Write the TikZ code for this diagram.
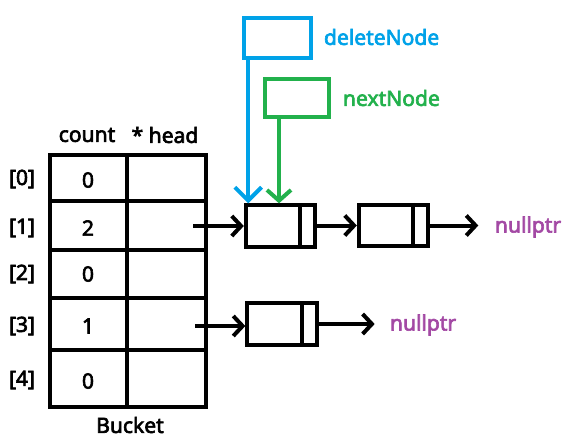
\documentclass[tikz,border=0pt]{standalone}
\usepackage{fontspec}
\setmainfont{Noto Sans}[RawFeature={embolden=3}]
\usetikzlibrary{arrows.meta,calc}
\definecolor{pblue}{HTML}{00A2E8}
\definecolor{pgreen}{HTML}{22B14C}
\definecolor{ppurple}{HTML}{A349A4}
\begin{document}
\begin{tikzpicture}[x=0.75pt,y=-0.75pt,line width=3pt,
  txt/.style={font=\fontsize{15.8}{19}\selectfont,inner sep=0pt},
  lnode/.style={draw,rectangle,minimum width=52pt,minimum height=31pt,inner sep=0pt},
  ptrbox/.style={draw,rectangle,inner sep=0pt},
  barb/.style={-{Straight Barb[length=7pt,width=15pt]}},
  bigbarb/.style={-{Straight Barb[length=10pt,width=20pt]}}]
\useasboundingbox (0,0) rectangle (572,440);
% bucket table
\draw (50,155) rectangle (206,407);
\draw (127,155) -- (127,407);
\foreach \y in {201,250,298,350} \draw (50,\y) -- (206,\y);
\node[txt] (hcount) at (87,135) {count};
\node[txt] (hhead) at (165,135) {* head};
\node[txt] (bucket) at (130,425) {Bucket};
\node[txt] (i0) at (22,179) {[0]};
\node[txt] (i1) at (22,228) {[1]};
\node[txt] (i2) at (22,274) {[2]};
\node[txt] (i3) at (22,326) {[3]};
\node[txt] (i4) at (22,380) {[4]};
\node[txt] (c0) at (88,180) {0};
\node[txt] (c1) at (88,228) {2};
\node[txt] (c2) at (88,274) {0};
\node[txt] (c3) at (88,326) {1};
\node[txt] (c4) at (88,381) {0};
\coordinate (h1) at (193,226);
\coordinate (h3) at (195,326);
% list nodes
\node[lnode] (n1) at (280.5,226) {};
\node[lnode] (n2) at (393.5,225.5) {};
\node[lnode] (n3) at (282,324) {};
\foreach \n in {n1,n2,n3}
  \draw ($(\n.north east)+(-17,0)$) -- ($(\n.south east)+(-17,0)$);
\node[txt,text=ppurple,anchor=west] (null1) at (493,227) {nullptr};
\node[txt,text=ppurple,anchor=west] (null3) at (388,325) {nullptr};
\draw[barb] (h1) -- (n1.west |- h1);
\draw[barb] (h3) -- (n3.west |- h3);
\draw[barb] (n1.east |- n2.west) -- (n2.west);
\draw[barb] (n2.east) -- ([xshift=-11pt]null1.west |- n2.east);
\draw[barb] (n3.east) -- ([xshift=-10pt]null3.west |- n3.east);
% pointer variables
\node[ptrbox,draw=pblue,minimum width=50pt,minimum height=30pt] (dn) at (277.5,38) {};
\node[txt,text=pblue,anchor=west] (dnl) at (322,37) {deleteNode};
\node[ptrbox,draw=pgreen,minimum width=48pt,minimum height=28.5pt] (nn) at (297,98) {};
\node[txt,text=pgreen,anchor=west] (nnl) at (341,98) {nextNode};
\draw[pblue,bigbarb] ($(dn.south west)+(6,0)$) -- ($(dn.south west |- n1.north)+(6,0)$);
\draw[pgreen,-{Straight Barb[length=8pt,width=18pt]}] ($(nn.south west)+(16,0)$) -- ($(nn.south west |- n1.north)+(16,0)$);
\end{tikzpicture}
\end{document}
